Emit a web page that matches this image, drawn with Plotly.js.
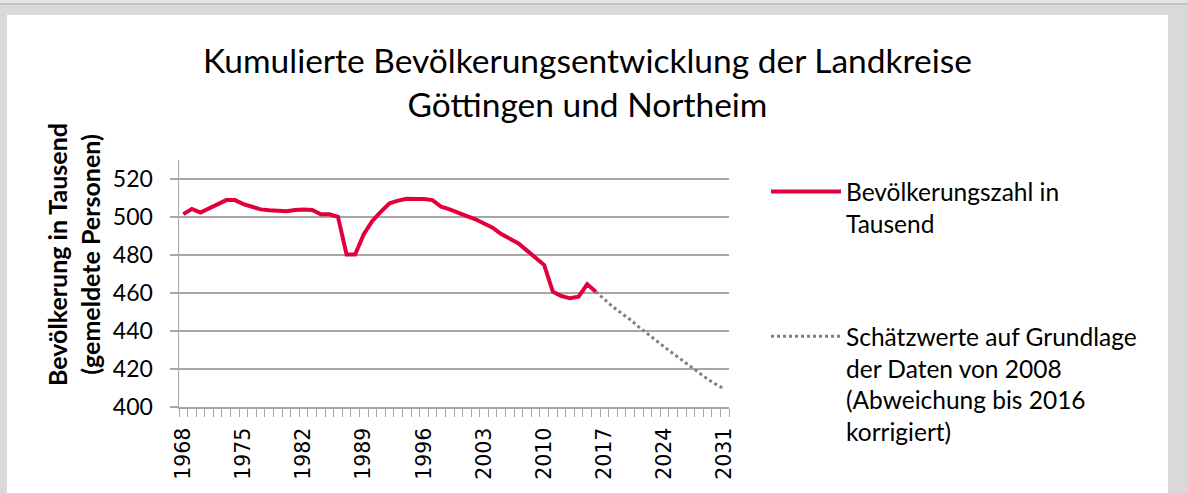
<!DOCTYPE html>
<html>
<head>
<meta charset="utf-8">
<script src="https://cdn.plot.ly/plotly-3.0.1.min.js"></script>
<style>
  html, body { margin: 0; padding: 0; }
  body { width: 1188px; height: 493px; background: #d9d9d9; position: relative; overflow: hidden; }
  #topline { position: absolute; left: 0; top: 0; width: 1188px; height: 3px; background: #e4e4e4; border-bottom: 2px solid #c3c3c3; }
  #chart { position: absolute; left: 7px; top: 15px; width: 1161px; height: 478px; background: #fff; }
</style>
</head>
<body>
<div id="topline"></div>
<div id="chart"></div>
<script>
// Beobachtete Bevölkerungszahl (Tausend)
const yearsActual = [1968,1969,1970,1971,1972,1973,1974,1975,1976,1977,1978,1979,1980,1981,1982,1983,1984,1985,1986,1987,1988,1989,1990,1991,1992,1993,1994,1995,1996,1997,1998,1999,2000,2001,2002,2003,2004,2005,2006,2007,2008,2009,2010,2011,2012,2013,2014,2015,2016];
const valuesActual = [501.5,504.2,502.3,504.5,506.8,508.9,508.9,506.8,505.4,504.0,503.5,503.1,503.0,503.7,504.0,503.7,501.4,501.4,500.1,480.3,480.3,491.0,497.9,502.8,507.2,508.6,509.6,509.5,509.5,508.9,505.4,504.0,502.0,500.5,498.8,496.7,494.4,491.0,488.4,486.1,482.3,478.6,474.7,460.7,458.4,457.2,458.1,464.6,460.7];

// Schätzwerte
const yearsEstimate = [2016,2017,2018,2019,2020,2021,2022,2023,2024,2025,2026,2027,2028,2029,2030,2031];
const valuesEstimate = [460.7,456.5,452.7,449.3,446.0,442.2,438.5,434.9,431.5,428.1,424.8,421.4,418.0,414.7,411.9,409.4];

const xTickVals = [1968,1975,1982,1989,1996,2003,2010,2017,2024,2031];
const xTickText = ["1968","1975","1982","1989","1996","2003","2010","2017","2024","2031"];

const nameActual = "Bevölkerungszahl in<br>Tausend";
const nameEstimate = "Schätzwerte auf Grundlage<br>der Daten von 2008<br>(Abweichung bis 2016<br>korrigiert)";
const yTitle = "<b>Bevölkerung in Tausend<br>(gemeldete Personen)</b>";

const traces = [
  {
    x: yearsActual, y: valuesActual, type: "scatter", mode: "lines",
    name: nameActual, legendgroup: "a",
    line: { color: "#e2003c", width: 4 }
  },
  {
    x: yearsEstimate, y: valuesEstimate, type: "scatter", mode: "lines",
    name: nameEstimate, legendgroup: "b",
    line: { color: "#808080", width: 3, dash: "dot" }
  }
];

const W = 1161, H = 478;
const ML = 172, MR = 439, MT = 145, MB = 86;
const PW = W - ML - MR, PH = H - MT - MB;
const layout = {
  width: W, height: H,
  paper_bgcolor: "#ffffff", plot_bgcolor: "#ffffff",
  margin: { l: ML, r: MR, t: MT, b: MB },
  font: { family: "Lato, sans-serif", color: "#000" },
  title: {
    text: "Kumulierte Bevölkerungsentwicklung der Landkreise<br>Göttingen und Northeim",
    font: { family: "Lato, sans-serif", size: 33.5, color: "#000" },
    x: 0.5, xref: "container", xanchor: "center",
    y: 1 - 58 / H, yref: "container", yanchor: "top"
  },
  xaxis: {
    range: [1967.5, 2031.5],
    tickmode: "array", tickvals: xTickVals, ticktext: xTickText,
    tickangle: -90,
    ticks: "outside", ticklen: 8, tickcolor: "rgba(0,0,0,0)",
    tickfont: { family: "DejaVu Sans", size: 20.5, color: "#000" },
    ticklabelstandoff: 3,
    showline: true, linecolor: "#a6a6a6", linewidth: 1.5,
    showgrid: false, zeroline: false,
    minor: { tickmode: "linear", tick0: 1967.5, dtick: 1, ticks: "outside", ticklen: 8, tickcolor: "#a6a6a6", tickwidth: 1, showgrid: false }
  },
  yaxis: {
    range: [400, 530],
    tickmode: "linear", tick0: 400, dtick: 20,
    ticks: "outside", ticklen: 8, tickcolor: "#a6a6a6", tickwidth: 1.5,
    tickfont: { family: "Lato, sans-serif", size: 23, color: "#000" },
    ticklabelstandoff: 12,
    showline: true, linecolor: "#a6a6a6", linewidth: 1.5,
    showgrid: true, gridcolor: "#a6a6a6", gridwidth: 1.5,
    zeroline: false
  },
  annotations: [
    {
      text: yTitle, textangle: -90, showarrow: false,
      xref: "paper", yref: "paper",
      x: (66 - ML) / PW, y: (MT + PH - 240) / PH,
      xanchor: "center", yanchor: "middle",
      font: { family: "Lato, sans-serif", size: 25, color: "#000" }
    }
  ],
  showlegend: true,
  legend: {
    xref: "container", yref: "container",
    x: 759 / W, xanchor: "left",
    y: 1 - 154 / H, yanchor: "top",
    font: { family: "Lato, sans-serif", size: 24.5, color: "#000" },
    itemwidth: 70,
    valign: "top",
    traceorder: "grouped",
    tracegroupgap: 78,
    maxheight: 420,
    bgcolor: "rgba(0,0,0,0)"
  }
};

Plotly.newPlot("chart", traces, layout, { staticPlot: true, displayModeBar: false });
</script>
</body>
</html>
